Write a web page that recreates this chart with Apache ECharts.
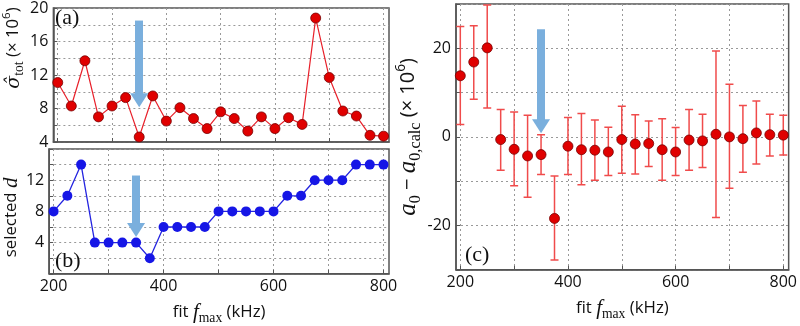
<!DOCTYPE html>
<html>
<head>
<meta charset="utf-8">
<script src="https://cdn.jsdelivr.net/npm/echarts@6/dist/echarts.min.js"></script>
<style>
  html, body { margin: 0; padding: 0; background: #fff; }
  #chart { width: 800px; height: 326px; }
</style>
</head>
<body>
<div id="chart"></div>
<script>
// fit f_max (kHz)
const freqs = [200, 225, 250, 275, 300, 325, 350, 375, 400, 425, 450, 475, 500,
  525, 550, 575, 600, 625, 650, 675, 700, 725, 750, 775, 800];
// (a) sigma_tot (x 10^6)
const sigmaTot = [11.1, 8.3, 13.7, 7.0, 8.3, 9.3, 4.6, 9.5, 6.5, 8.1, 6.8, 5.6, 7.6,
  6.8, 5.3, 7.0, 5.6, 6.9, 6.1, 18.8, 11.7, 7.7, 7.1, 4.8, 4.7];
// (b) selected d
const selectedD = [8, 10, 14, 4, 4, 4, 4, 2, 6, 6, 6, 6, 8, 8, 8, 8, 8, 10, 10, 12, 12, 12, 14, 14, 14];
// (c) a0 - a0,calc (x 10^6) with error bar ends
const a0Diff = [13.8, 16.9, 20.1, -0.6, -2.8, -4.3, -4.0, -18.4, -2.1, -2.9, -3.0, -3.4, -0.6,
  -1.6, -1.5, -2.9, -3.4, -0.7, -0.9, 0.6, 0.0, -0.4, 0.9, 0.5, 0.4];
const a0ErrHigh = [24.9, 25.1, 29.8, 6.2, 5.6, 4.9, 0.5, -8.8, 4.4, 5.3, 3.8, 2.2, 6.9,
  5.0, 3.6, 4.1, 2.1, 6.2, 5.1, 19.4, 11.9, 7.1, 8.1, 5.1, 4.9];
const a0ErrLow = [2.8, 8.5, 6.5, -7.5, -11.0, -13.6, -8.5, -27.8, -8.5, -10.8, -9.8, -8.7, -8.2,
  -8.4, -6.7, -9.8, -8.7, -7.5, -6.9, -18.2, -11.6, -8.0, -6.1, -4.3, -4.1];

const xTickValues = [200, 300, 400, 500, 600, 700, 800];
const xLabelValues = [200, 400, 600, 800];

// blue arrows, marking fit f_max = 350 kHz
const arrowFreq = 350;
const arrowA = [18.5, 9.0];
const arrowB = [12.6, 5.6];
const arrowC = [24.3, 2.4];

const frame = '#555';
const sans = 'Open Sans';
const serif = 'Liberation Serif';

function rich(scale) {
  return {
    it: { fontFamily: serif, fontStyle: 'italic', fontSize: 20 * scale, color: '#111', lineHeight: 24 * scale },
    hat: { fontFamily: 'DejaVu Serif', fontStyle: 'italic', fontSize: 18 * scale, color: '#111', lineHeight: 24 * scale },
    rm: { fontFamily: sans, fontSize: 16 * scale, color: '#111', lineHeight: 24 * scale },
    sub: { fontFamily: serif, fontSize: 13 * scale, color: '#111', verticalAlign: 'bottom', lineHeight: 12 * scale },
    sup: { fontFamily: sans, fontSize: 11 * scale, color: '#111', verticalAlign: 'top', lineHeight: 12 * scale }
  };
}

function xAxis(gridIndex, showLabels) {
  return {
    type: 'value', gridIndex, min: 192, max: 810,
    name: showLabels ? '{rm|fit }{it|f}{sub|max}{rm| (kHz)}' : '',
    nameLocation: 'middle', nameGap: 26,
    nameTextStyle: { rich: rich(1.05) },
    axisLine: { show: true, onZero: false, lineStyle: { color: frame, width: 1.5 } },
    axisTick: { show: true, inside: true, length: 4, customValues: xTickValues, lineStyle: { color: frame } },
    axisLabel: { show: showLabels, customValues: xLabelValues, fontFamily: sans, fontSize: 16, color: '#111', margin: 5 },
    splitLine: { show: true, lineStyle: { color: '#999', type: [2, 3], width: 1 } }
  };
}

function yAxis(gridIndex, min, max, interval, labelStep, name, nameGap, hideEnds, nameStyle) {
  return {
    type: 'value', gridIndex, min, max, interval,
    name, nameLocation: 'middle', nameGap,
    nameTextStyle: nameStyle,
    axisLine: { show: true, lineStyle: { color: frame, width: 1.5 } },
    axisTick: { show: true, inside: true, length: 4, lineStyle: { color: frame } },
    axisLabel: {
      fontFamily: sans, fontSize: 16, color: '#111', margin: 5,
      formatter: v => (v % labelStep === 0 && !(hideEnds && (v === min || v === max))) ? String(v) : ''
    },
    splitLine: { show: true, lineStyle: { color: '#999', type: [2, 3], width: 1 } }
  };
}

function arrow(from, to) {
  return {
    silent: true, animation: false,
    symbol: ['none', 'triangle'], symbolSize: [18, 14],
    label: { show: false },
    lineStyle: { color: '#7aafdd', width: 8, type: 'solid' },
    emphasis: { disabled: true },
    data: [[{ coord: [arrowFreq, from] }, { coord: [arrowFreq, to] }]]
  };
}

const panelLabel = (text, left, top) => ({
  type: 'text', left, top, z: 100,
  style: { text, font: '22px "Liberation Serif"', fill: '#111' }
});

const chart = echarts.init(document.getElementById('chart'));
chart.setOption({
  animation: false,
  backgroundColor: '#fff',
  grid: [
    { left: 48, top: 4, width: 341, height: 138, show: true, borderColor: frame, borderWidth: 1.5 },
    { left: 48, top: 149, width: 341, height: 137, show: true, borderColor: frame, borderWidth: 1.5 },
    { left: 456, top: 4, width: 338, height: 281, show: true, borderColor: frame, borderWidth: 1.5 }
  ],
  xAxis: [xAxis(0, false), xAxis(1, true), xAxis(2, true)],
  yAxis: [
    yAxis(0, 4, 20, 2, 4, '{hat|σ̂}{sub|tot}{rm| (× 10}{sup|6}{rm|)}', 22, false,
      { rich: rich(1.05), padding: [0, 0, 0, 54] }),
    yAxis(1, 0, 16, 2, 4, '{rm|selected }{it|d}', 22, true,
      { rich: rich(1.05), padding: [0, 12, 0, 0] }),
    yAxis(2, -30, 30, 10, 20, '{it|a}{sub|0}{rm| − }{it|a}{sub|0,calc}{rm| (× 10}{sup|6}{rm|)}', 26, false,
      { rich: rich(1.25) })
  ],
  graphic: [
    panelLabel('(a)', 55, 7),
    panelLabel('(b)', 55, 250),
    panelLabel('(c)', 465, 244)
  ],
  series: [
    {
      type: 'line', xAxisIndex: 0, yAxisIndex: 0,
      data: freqs.map((f, i) => [f, sigmaTot[i]]),
      symbol: 'circle', symbolSize: 10,
      lineStyle: { color: '#e8202a', width: 1.2 },
      itemStyle: { color: '#e00000', borderColor: '#700', borderWidth: 0.8 },
      markLine: arrow(arrowA[0], arrowA[1])
    },
    {
      type: 'line', xAxisIndex: 1, yAxisIndex: 1,
      data: freqs.map((f, i) => [f, selectedD[i]]),
      symbol: 'circle', symbolSize: 10,
      lineStyle: { color: '#2424e0', width: 1.3 },
      itemStyle: { color: '#1616e6' },
      markLine: arrow(arrowB[0], arrowB[1])
    },
    {
      type: 'custom', xAxisIndex: 2, yAxisIndex: 2, clip: true,
      data: freqs.map((f, i) => [f, a0ErrLow[i], a0ErrHigh[i]]),
      renderItem: (params, api) => {
        const x = api.value(0);
        const top = api.coord([x, api.value(2)]);
        const bot = api.coord([x, api.value(1)]);
        const cap = 4;
        const st = { stroke: '#f04b4b', lineWidth: 1.5 };
        return {
          type: 'group',
          children: [
            { type: 'line', shape: { x1: top[0], y1: top[1], x2: bot[0], y2: bot[1] }, style: st },
            { type: 'line', shape: { x1: top[0] - cap, y1: top[1], x2: top[0] + cap, y2: top[1] }, style: st },
            { type: 'line', shape: { x1: bot[0] - cap, y1: bot[1], x2: bot[0] + cap, y2: bot[1] }, style: st }
          ]
        };
      }
    },
    {
      type: 'scatter', xAxisIndex: 2, yAxisIndex: 2, z: 3,
      data: freqs.map((f, i) => [f, a0Diff[i]]),
      symbolSize: 10,
      itemStyle: { color: '#e00000', borderColor: '#700', borderWidth: 0.8, opacity: 1 },
      markLine: arrow(arrowC[0], arrowC[1])
    }
  ]
});
</script>
</body>
</html>
